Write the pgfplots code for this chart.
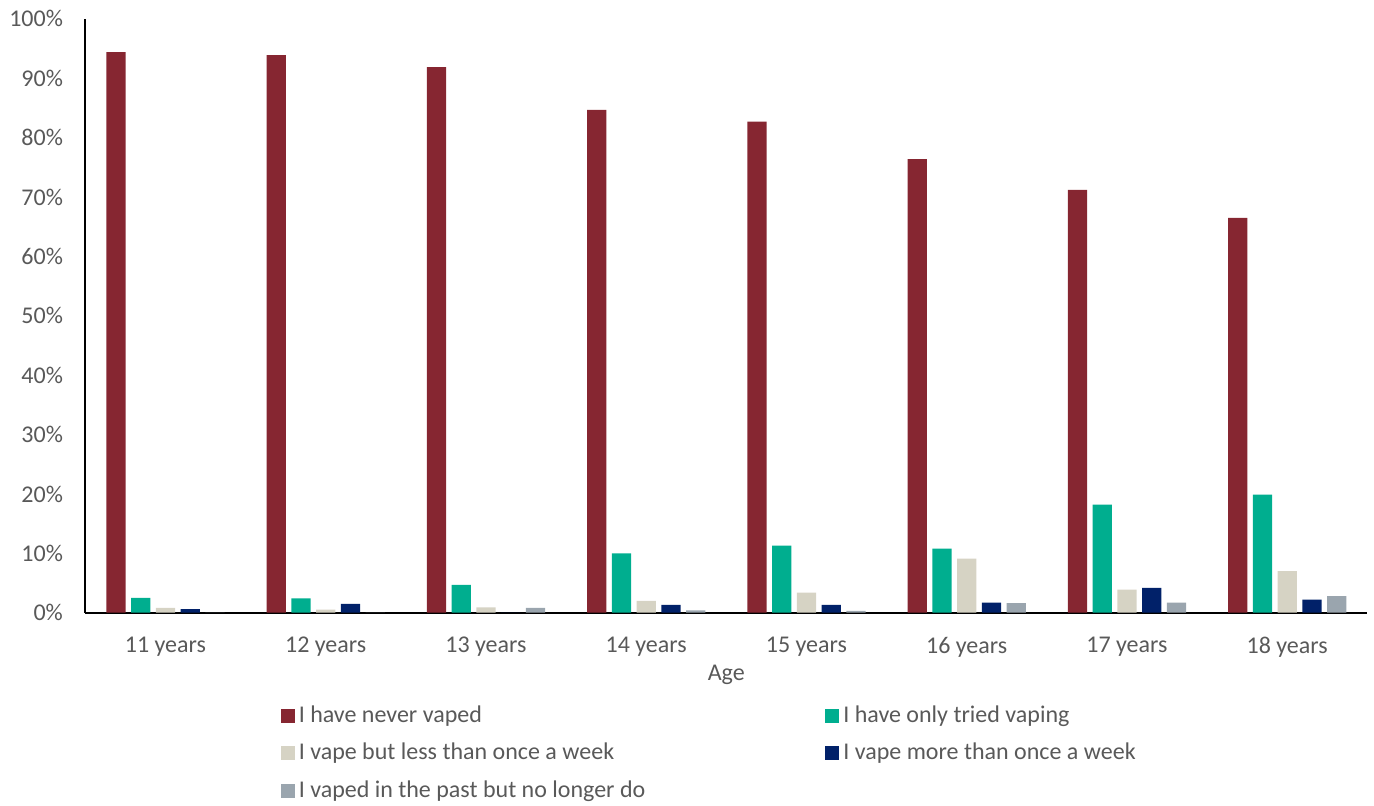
\documentclass[border=0pt]{standalone}
\usepackage{fontspec}
\setmainfont{Carlito}
\usepackage{pgfplots}
\pgfplotsset{compat=1.18}
\definecolor{cRed}{HTML}{862631}
\definecolor{cTeal}{HTML}{00AE8F}
\definecolor{cBeige}{HTML}{D6D3C4}
\definecolor{cNavy}{HTML}{012169}
\definecolor{cGray}{HTML}{9AA5AE}
\definecolor{txt}{HTML}{595959}
\begin{document}
\fontsize{12pt}{14pt}\selectfont
\begin{tikzpicture}
\useasboundingbox (-42.65pt,-96.15pt) rectangle (644.35pt,306.35pt);
\begin{axis}[
  scale only axis,
  width=641pt, height=296.9pt,
  xmin=-0.5, xmax=7.5, ymin=0, ymax=100,
  axis x line*=bottom, axis y line*=left,
  axis line style={black, line width=0.9pt, -},
  xtick={0,...,7},
  xticklabels={11 years,12 years,13 years,14 years,15 years,16 years,17 years,18 years},
  ytick={0,10,...,100},
  major tick length=0pt,
  /pgf/number format/assume math mode=true,
  yticklabel={\pgfmathprintnumber{\tick}\%},
  yticklabel style={text=txt, font=\fontsize{12pt}{14pt}\selectfont, xshift=-7pt},
  xticklabel style={text=txt, font=\fontsize{12pt}{14pt}\selectfont, yshift=-8pt},
  xlabel={Age},
  xlabel style={text=txt, font=\fontsize{12pt}{14pt}\selectfont, yshift=4.5pt},
  ybar,
  bar width=0.12,
  legend columns=2,
  legend cell align=left,
  legend style={draw=none, fill=none, at={(0.1475,-0.143)}, anchor=north west,
    font=\fontsize{12pt}{14pt}\selectfont, text=txt,
    /tikz/every even column/.append style={column sep=88pt},
    row sep=4.5pt},
  legend image code/.code={\fill[#1] (0pt,-3.5pt) rectangle (7pt,3.5pt);},
]
\addplot[fill=cRed, draw=none, bar shift=-0.309] coordinates {(0,94.4) (1,93.9) (2,91.9) (3,84.7) (4,82.7) (5,76.4) (6,71.2) (7,66.5)};
\addlegendentry{I have never vaped}
\addplot[fill=cTeal, draw=none, bar shift=-0.1545] coordinates {(0,2.5) (1,2.4) (2,4.7) (3,10.0) (4,11.3) (5,10.8) (6,18.2) (7,19.9)};
\addlegendentry{I have only tried vaping}
\addplot[fill=cBeige, draw=none, bar shift=0] coordinates {(0,0.8) (1,0.5) (2,0.9) (3,2.0) (4,3.4) (5,9.1) (6,3.9) (7,7.0)};
\addlegendentry{I vape but less than once a week}
\addplot[fill=cNavy, draw=none, bar shift=0.1545] coordinates {(0,0.6) (1,1.5) (2,0) (3,1.3) (4,1.3) (5,1.7) (6,4.2) (7,2.2)};
\addlegendentry{I vape more than once a week}
\addplot[fill=cGray, draw=none, bar shift=0.309] coordinates {(0,0) (1,0) (2,0.8) (3,0.4) (4,0.3) (5,1.6) (6,1.7) (7,2.8)};
\addlegendentry{I vaped in the past but no longer do}
\end{axis}
\end{tikzpicture}
\end{document}
